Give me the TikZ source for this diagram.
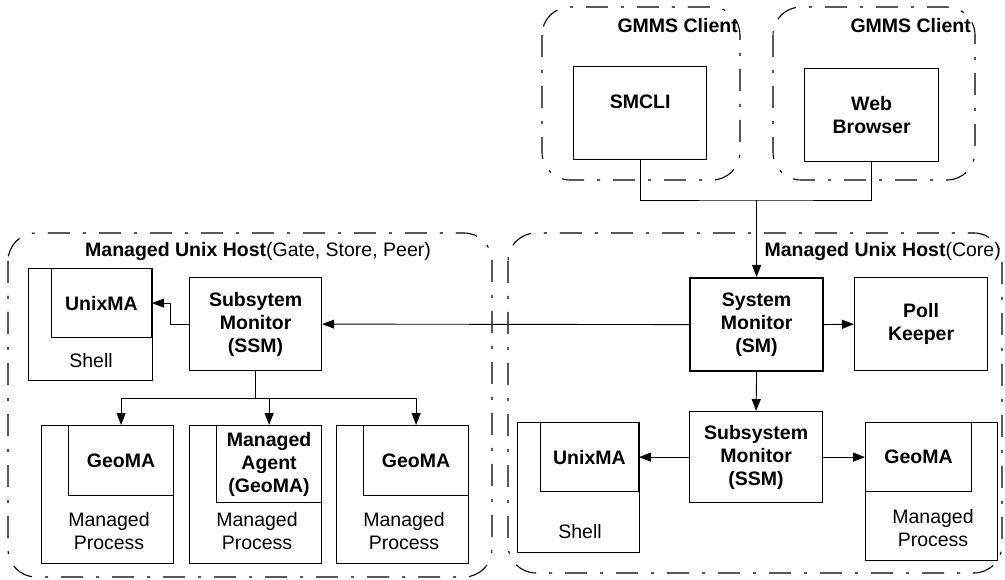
\documentclass[tikz,border=0pt]{standalone}
\usepackage{fontspec}
\setmainfont{Liberation Sans}
\usetikzlibrary{arrows.meta}

\tikzset{
  box/.style={draw,line width=1.2pt,anchor=north west,inner sep=0pt,align=center,font=\bfseries},
  host/.style={draw,line width=1.1pt,rounded corners=28pt,dash pattern=on 22pt off 13pt on 3pt off 13pt},
  txt/.style={align=center,inner sep=0pt},
  link/.style={line width=0.9pt},
  arr/.style={link,-{Triangle[length=12pt,width=9pt]}}
}

\begin{document}
\fontsize{19.5}{23}\selectfont
\begin{tikzpicture}[x=1pt,y=-1pt]
  \useasboundingbox (0,0) rectangle (1005,580);

  % client side
  \draw[host] (542,7) rectangle (740,180);
  \draw[host] (773,7) rectangle (975,180);
  \node[txt,font=\bfseries,anchor=east] (cliA) at (738,26) {GMMS Client};
  \node[txt,font=\bfseries,anchor=east] (cliB) at (971,26) {GMMS Client};
  \node[box,minimum width=133,minimum height=93,text depth=22pt] (smcli) at (573,66) {SMCLI};
  \node[box,minimum width=134,minimum height=93] (web) at (804,68) {Web\\Browser};

  % core host
  \draw[host] (508,233) rectangle (1002,573);
  \node[txt,anchor=east] (coreT) at (1001,252) {{\bfseries Managed Unix Host}(Core)};
  \node[box,line width=2.2pt,minimum width=133,minimum height=93] (sm) at (689,277) {System\\Monitor\\(SM)};
  \node[box,minimum width=133,minimum height=93] (poll) at (854,277) {Poll\\Keeper};
  \node[box,minimum width=133,minimum height=91] (ssmB) at (689,411) {Subsystem\\Monitor\\(SSM)};
  \node[box,minimum width=122,minimum height=130] (shellB) at (517,422) {};
  \node[box,anchor=north east,minimum width=98,minimum height=69] (unixB) at (639,422) {UnixMA};
  \node[txt] (shellBt) at (580,532) {Shell};
  \node[box,minimum width=132,minimum height=138] (procB) at (865,422) {};
  \node[box,minimum width=106,minimum height=69] (geoB) at (865,422) {GeoMA};
  \node[txt] (procBt) at (933,528) {Managed\\Process};

  % gate/store/peer host
  \draw[host] (8,233) rectangle (492,577);
  \node[txt,anchor=west] (hostT) at (85,252) {{\bfseries Managed Unix Host}(Gate, Store, Peer)};
  \node[box,minimum width=132,minimum height=93] (ssmA) at (189,277) {Subsytem\\Monitor\\(SSM)};
  \node[box,minimum width=124,minimum height=112] (shellA) at (28,268) {};
  \node[box,anchor=north east,minimum width=100,minimum height=69] (unixA) at (152,268) {UnixMA};
  \node[txt] (shellAt) at (91,361) {Shell};
  \foreach \n/\x/\h/\t in {1/41/70/GeoMA, 2/189/77/{Managed\\Agent\\(GeoMA)}, 3/336/70/GeoMA} {
    \node[box,minimum width=132,minimum height=138] (proc\n) at (\x,425) {};
    \node[box,anchor=north east,minimum width=105,minimum height=\h] (geo\n) at (proc\n.north east) {\t};
    \node[txt] (lbl\n) at (\x+68,531) {Managed\\Process};
  }

  % connectors
  \coordinate (jn) at (sm.north |- 0,200);
  \draw[link] (smcli.south) |- (jn) -| (web.south);
  \draw[arr] (jn) -- (sm.north);
  \draw[arr] (sm.west) -- (ssmA.east);
  \draw[arr] (sm.east) -- (poll.west);
  \draw[arr] (sm.south) -- (ssmB.north);
  \draw[arr] (ssmB.west) -- (unixB.east);
  \draw[arr] (ssmB.east) -- (geoB.west);
  \draw[arr] (ssmA.west) -- ++(-19,0) |- (unixA.east);
  \coordinate (fork) at (ssmA.south |- 0,398);
  \draw[link] (ssmA.south) -- (fork);
  \foreach \n in {1,2,3} \draw[arr] (fork) -| (geo\n.north);
\end{tikzpicture}
\end{document}
